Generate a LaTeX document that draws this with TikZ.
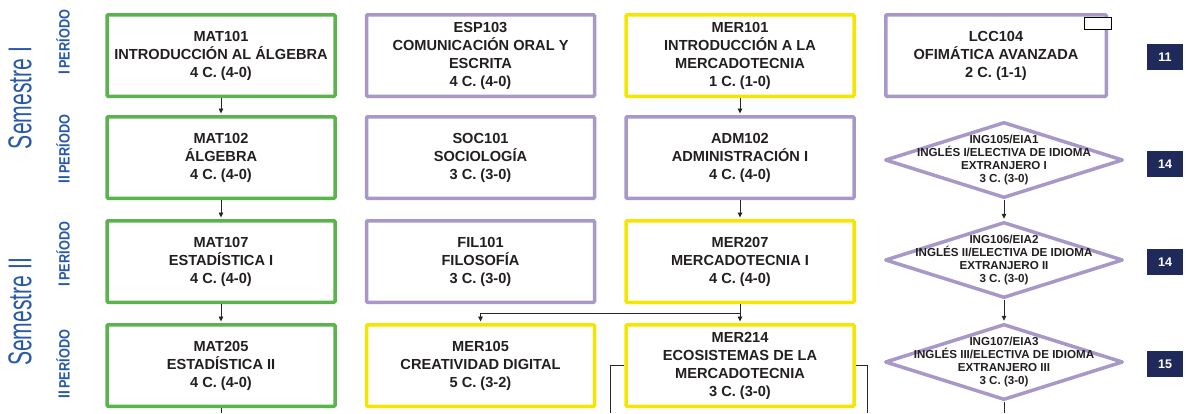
\documentclass[tikz,border=0pt]{standalone}
\usepackage{fontspec}
\setmainfont{Liberation Sans}
\newfontfamily\semestrefont[FakeStretch=0.64]{Liberation Sans}
\usetikzlibrary{shapes.geometric,arrows.meta}

\definecolor{matgreen}{RGB}{92,178,77}
\definecolor{lila}{RGB}{168,152,200}
\definecolor{mercyellow}{RGB}{244,230,0}
\definecolor{labelblue}{RGB}{40,88,168}
\definecolor{navy}{RGB}{31,42,90}
\definecolor{ink}{RGB}{35,31,32}

\begin{document}
\begin{tikzpicture}[x=1pt,y=-1pt,
  course/.style={draw=#1,line width=3.5pt,rounded corners=1pt,minimum width=228pt,minimum height=81.5pt,
    inner sep=0pt,align=center,text=ink,font=\bfseries\fontsize{14.6}{18}\selectfont},
  idioma/.style={diamond,draw=lila,line width=3.5pt,line join=round,minimum width=238pt,minimum height=76pt,inner sep=0pt},
  idiomatext/.style={align=center,text=ink,inner sep=0pt,font=\bfseries\fontsize{11.6}{13}\selectfont},
  credits/.style={fill=navy,text=white,minimum width=36pt,minimum height=26pt,inner sep=0pt,font=\bfseries\fontsize{12.5}{14}\selectfont},
  semestre/.style={rotate=90,text=labelblue,inner sep=0pt,font=\semestrefont\fontsize{33}{33}\selectfont},
  periodo/.style={rotate=90,text=labelblue,inner sep=0pt,font=\bfseries\addfontfeature{FakeStretch=0.85}\fontsize{15}{15}\selectfont},
  arr/.style={-{Triangle[length=5pt,width=4.5pt]},line width=0.9pt,draw=black!85,shorten >=1.5pt},
  link/.style={line width=0.9pt,draw=black!85}]
  \useasboundingbox (0,0) rectangle (1192,413);

  % semestres y periodos
  \node[semestre] (sem1) at (20,98) {Semestre I};
  \node[semestre] (sem2) at (20,312) {Semestre II};
  \node[periodo] (per1) at (63,42) {{\fontsize{16}{16}\selectfont I}\kern2pt PERÍODO};
  \node[periodo] (per2) at (63,149) {{\fontsize{16}{16}\selectfont II}\kern2pt PERÍODO};
  \node[periodo] (per3) at (63,254) {{\fontsize{16}{16}\selectfont I}\kern2pt PERÍODO};
  \node[periodo] (per4) at (63,364) {{\fontsize{16}{16}\selectfont II}\kern2pt PERÍODO};

  % primer periodo
  \node[course=matgreen] (mat101) at (221,55.5) {MAT101\\INTRODUCCIÓN AL ÁLGEBRA\\4 C. (4-0)};
  \node[course=lila] (esp103) at (480.5,55.5) {ESP103\\COMUNICACIÓN ORAL Y\\ESCRITA\\4 C. (4-0)};
  \node[course=mercyellow] (mer101) at (740,55.5) {MER101\\INTRODUCCIÓN A LA\\MERCADOTECNIA\\1 C. (1-0)};
  \node[course=lila,minimum width=220.5pt] (lcc104) at (996,55.5) {LCC104\\OFIMÁTICA AVANZADA\\2 C. (1-1)};
  \node[draw=black,fill=white,line width=0.8pt,minimum width=27pt,minimum height=12pt,inner sep=0pt] (lccmark) at (1098,23.5) {};
  \node[credits] (cr1) at (1165,57) {11};

  % segundo periodo
  \node[course=matgreen] (mat102) at (221,157.5) {MAT102\\ÁLGEBRA\\4 C. (4-0)};
  \node[course=lila] (soc101) at (480.5,157.5) {SOC101\\SOCIOLOGÍA\\3 C. (3-0)};
  \node[course=lila] (adm102) at (740,157.5) {ADM102\\ADMINISTRACIÓN I\\4 C. (4-0)};
  \node[idioma] (ing105) at (1004,160) {};
  \node[idiomatext] (ing105txt) at (ing105) {ING105/EIA1\\INGLÉS I/ELECTIVA DE IDIOMA\\EXTRANJERO I\\3 C. (3-0)};
  \node[credits] (cr2) at (1165,164) {14};

  % tercer periodo
  \node[course=matgreen] (mat107) at (221,261.5) {MAT107\\ESTADÍSTICA I\\4 C. (4-0)};
  \node[course=lila] (fil101) at (480.5,261.5) {FIL101\\FILOSOFÍA\\3 C. (3-0)};
  \node[course=mercyellow] (mer207) at (740,261.5) {MER207\\MERCADOTECNIA I\\4 C. (4-0)};
  \node[idioma] (ing106) at (1004,260) {};
  \node[idiomatext] (ing106txt) at (ing106) {ING106/EIA2\\INGLÉS II/ELECTIVA DE IDIOMA\\EXTRANJERO II\\3 C. (3-0)};
  \node[credits] (cr3) at (1165,262) {14};

  % cuarto periodo
  \node[course=matgreen] (mat205) at (221,365.5) {MAT205\\ESTADÍSTICA II\\4 C. (4-0)};
  \node[course=mercyellow] (mer105) at (480.5,365.5) {MER105\\CREATIVIDAD DIGITAL\\5 C. (3-2)};
  \node[course=mercyellow] (mer214) at (740,365.5) {MER214\\ECOSISTEMAS DE LA\\MERCADOTECNIA\\3 C. (3-0)};
  \node[idioma] (ing107) at (1004,362) {};
  \node[idiomatext] (ing107txt) at (ing107) {ING107/EIA3\\INGLÉS III/ELECTIVA DE IDIOMA\\EXTRANJERO III\\3 C. (3-0)};
  \node[credits] (cr4) at (1165,364) {15};

  % prerrequisitos
  \coordinate (split) at (740,313);
  \coordinate (mat205out) at (221,413);
  \coordinate (mer214left) at (610,413);
  \coordinate (mer214right) at (867,413);
  \coordinate (ing107out) at (1004,413);

  \draw[arr] (mat101) -- (mat102);
  \draw[arr] (mat102) -- (mat107);
  \draw[arr] (mat107) -- (mat205);
  \draw[link] (mat205) -- (mat205out);
  \draw[arr] (mer101) -- (adm102);
  \draw[arr] (adm102) -- (mer207);
  \draw[arr] (mer207) -- (mer214);
  \draw[arr] (split) -| (mer105);
  \draw[link] (mer214.west) -| (mer214left);
  \draw[link] (mer214.east) -| (mer214right);
  \draw[arr] (ing105) -- (ing106);
  \draw[arr] (ing106) -- (ing107);
  \draw[link] (ing107) -- (ing107out);
\end{tikzpicture}
\end{document}
